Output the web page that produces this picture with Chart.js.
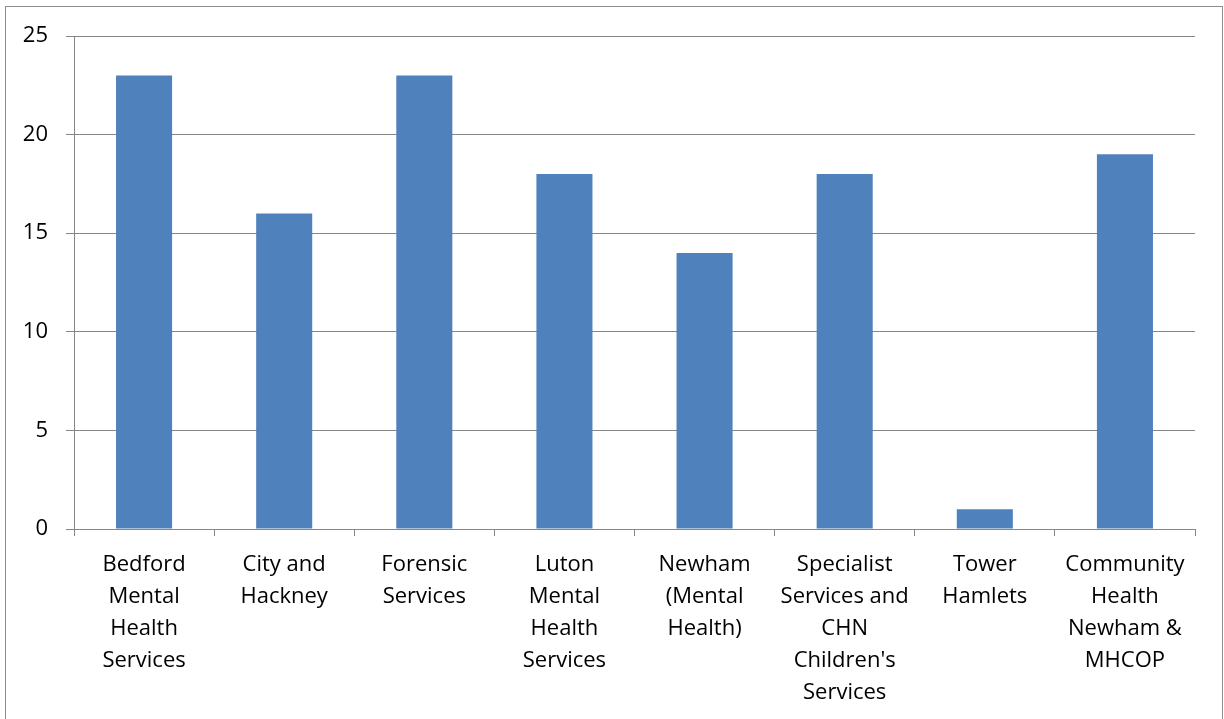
<!DOCTYPE html>
<html>
<head>
<meta charset="utf-8">
<script src="https://cdn.jsdelivr.net/npm/chart.js@4/dist/chart.umd.min.js"></script>
<style>
  html, body { margin: 0; padding: 0; background: #fff; }
  #wrap { position: relative; width: 1224px; height: 719px; }
</style>
</head>
<body>
<div id="wrap"><canvas id="chart"></canvas></div>
<script>
// Services and their counts
const services = [
  ['Bedford', 'Mental', 'Health', 'Services'],
  ['City and', 'Hackney'],
  ['Forensic', 'Services'],
  ['Luton', 'Mental', 'Health', 'Services'],
  ['Newham', '(Mental', 'Health)'],
  ['Specialist', 'Services and', 'CHN', "Children's", 'Services'],
  ['Tower', 'Hamlets'],
  ['Community', 'Health', 'Newham &', 'MHCOP']
];
const counts = [23, 16, 23, 18, 14, 18, 1, 19];
const yTicks = [0, 5, 10, 15, 20, 25];

const GRID = '#868686';
const FONT = { family: '"Open Sans", "Liberation Sans", sans-serif', size: 22 };

// outer frame round the whole chart
const frame = {
  id: 'frame',
  beforeDraw(chart) {
    const ctx = chart.ctx;
    ctx.save();
    ctx.strokeStyle = '#8c8c8c';
    ctx.lineWidth = 1;
    ctx.strokeRect(5.5, 6.5, 1217, 730);
    ctx.restore();
  }
};

new Chart(document.getElementById('chart'), {
  type: 'bar',
  data: {
    labels: services,
    datasets: [{
      data: counts,
      backgroundColor: '#4f81bd',
      categoryPercentage: 1,
      barPercentage: 0.4
    }]
  },
  plugins: [frame],
  options: {
    responsive: true,
    maintainAspectRatio: false,
    animation: false,
    layout: { padding: { top: 36, right: 29, left: 0, bottom: 0 } },
    plugins: { legend: { display: false }, tooltip: { enabled: false } },
    scales: {
      y: {
        min: 0,
        max: 25,
        afterBuildTicks(scale) { scale.ticks = yTicks.map(v => ({ value: v })); },
        afterFit(scale) { scale.width = 74; },
        grid: { color: GRID, tickLength: 8, lineWidth: 1 },
        border: { color: GRID },
        ticks: { color: '#000', font: FONT, padding: 18 }
      },
      x: {
        afterFit(scale) { scale.height = 190; },
        grid: { drawOnChartArea: false, drawTicks: true, tickLength: 7, color: GRID },
        border: { color: GRID },
        ticks: { color: '#000', font: { ...FONT, lineHeight: 32 / 22 }, padding: 13, maxRotation: 0, autoSkip: false }
      }
    }
  }
});
</script>
</body>
</html>
